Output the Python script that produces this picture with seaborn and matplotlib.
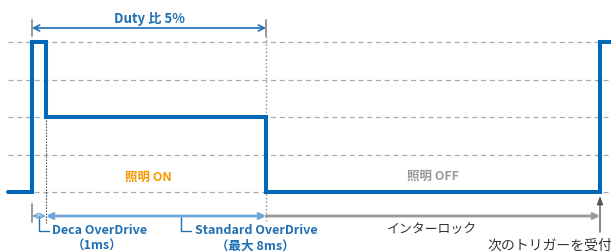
import matplotlib
matplotlib.use("Agg")
import matplotlib.pyplot as plt
import seaborn as sns
import pandas as pd

# ---- data (time axis in arbitrary units, signal level in grid steps) ----
wave_t = [8, 32, 32, 46, 46, 266, 266, 600, 600, 611]
wave_level = [0, 0, 4, 4, 2, 2, 0, 0, 4, 4]
grid_levels = [0, 1, 2, 3, 4]
t_trigger, t_deca, t_std, t_next = 32, 46, 266, 600

duty_label = "Duty 比 5%"
on_label = "照明 ON"
off_label = "照明 OFF"
deca_label = ["Deca OverDrive", "（1ms）"]
std_label = ["Standard OverDrive", "（最大 8ms）"]
interlock_label = "インターロック"
next_label = "次のトリガーを受付"

BLUE = "#0068b7"
TXT_BLUE = "#1f6fb4"
LIGHT_BLUE = "#6ea7d8"
ORANGE = "#f39800"
GRAY = "#999999"
DARK = "#333333"

sns.set_theme(style="white")
plt.rcParams["font.family"] = ["Noto Sans CJK JP", "DejaVu Sans"]

W, H = 611, 253
fig = plt.figure(figsize=(W / 100, H / 100), dpi=100)
ax = fig.add_axes([0, 0, 1, 1])
ax.set_axis_off()

# pixel -> level helper for layout
def py(p):
    return (193 - p) / 37.5

ax.set_xlim(0, W)
ax.set_ylim(py(H), py(0))

# grid lines
for lv in grid_levels:
    ax.plot([8, W], [lv, lv], color="#aaaaaa", lw=0.9, ls=(0, (4, 3)), zorder=1)

# waveform
df = pd.DataFrame({"t": wave_t, "level": wave_level})
sns.lineplot(data=df, x="t", y="level", sort=False, estimator=None,
             color=BLUE, lw=2.9, ax=ax, zorder=5)
ax.lines[-1].set_solid_joinstyle("miter")
ax.set_xlabel("")
ax.set_ylabel("")

# vertical markers
ax.plot([t_trigger, t_trigger], [py(21), py(37)], color=GRAY, lw=1.4, zorder=2)
ax.plot([t_std, t_std], [py(21), py(37)], color=GRAY, lw=1.4, zorder=2)
ax.plot([t_std, t_std], [py(37), py(222)], color=GRAY, lw=1.0, ls=(0, (1.2, 1.5)), zorder=2)
ax.plot([t_deca, t_deca], [py(118), py(224)], color=DARK, lw=0.8, ls=(0, (1.2, 1.5)), zorder=2)
ax.plot([t_trigger, t_trigger], [py(205), py(223)], color=GRAY, lw=1.4, zorder=2)

# duty arrow
ax.annotate("", xy=(t_std, py(29)), xytext=(t_trigger, py(29)),
            arrowprops=dict(arrowstyle="<->,head_length=0.35,head_width=0.18",
                            color=TXT_BLUE, lw=1.2, shrinkA=0, shrinkB=0))
ax.text((t_trigger + t_std) / 2, py(19), duty_label, color=TXT_BLUE,
        fontsize=9.5, fontweight="bold", ha="center", va="center")

# bottom arrows
yb = py(217)
ax.annotate("", xy=(t_deca, yb), xytext=(t_trigger, yb),
            arrowprops=dict(arrowstyle="<->,head_length=0.3,head_width=0.15",
                            color=LIGHT_BLUE, lw=1.0, shrinkA=0, shrinkB=0))
ax.annotate("", xy=(t_std, yb), xytext=(t_deca, yb),
            arrowprops=dict(arrowstyle="<->,head_length=0.3,head_width=0.15",
                            color=LIGHT_BLUE, lw=2.0, shrinkA=0, shrinkB=0))
ax.annotate("", xy=(t_next, yb), xytext=(t_std, yb),
            arrowprops=dict(arrowstyle="->,head_length=0.3,head_width=0.15",
                            color=GRAY, lw=2.0, shrinkA=0, shrinkB=0))

# brackets
ax.plot([39, 39, 49], [yb, py(232), py(232)], color=TXT_BLUE, lw=1.0)
ax.plot([181, 181, 191], [yb, py(232), py(232)], color=TXT_BLUE, lw=1.0)

ax.text(52, py(231), deca_label[0], color=TXT_BLUE, fontsize=9,
        fontweight="bold", ha="left", va="center")
ax.text(97, py(246), deca_label[1], color=TXT_BLUE, fontsize=9,
        fontweight="bold", ha="center", va="center")
ax.text(195, py(231), std_label[0], color=TXT_BLUE, fontsize=9,
        fontweight="bold", ha="left", va="center")
ax.text(255, py(246), std_label[1], color=TXT_BLUE, fontsize=9,
        fontweight="bold", ha="center", va="center")

# state labels
ax.text(148, py(177), on_label, color=ORANGE, fontsize=9, fontweight="bold",
        ha="center", va="center")
ax.text(433, py(176), off_label, color=GRAY, fontsize=9, fontweight="bold",
        ha="center", va="center")

ax.text(432, py(230), interlock_label, color=DARK, fontsize=9.3,
        ha="center", va="center")
ax.text(612, py(246), next_label, color=DARK, fontsize=10,
        ha="right", va="center")
ax.annotate("", xy=(t_next, py(197)), xytext=(t_next, py(233)),
            arrowprops=dict(arrowstyle="-|>,head_length=0.4,head_width=0.15",
                            color="#555555", lw=1.0, shrinkA=0, shrinkB=0))

fig.savefig("out.png", dpi=100)
